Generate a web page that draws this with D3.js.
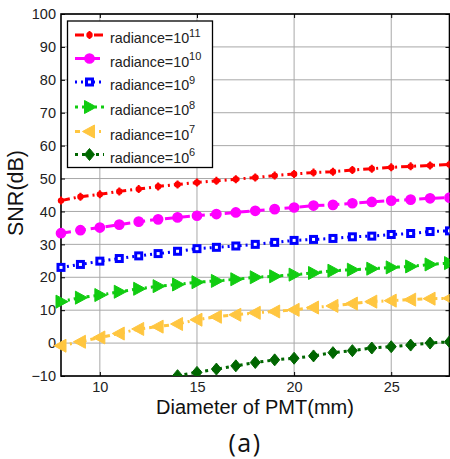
<!DOCTYPE html>
<html>
<head>
<meta charset="utf-8">
<script src="https://d3js.org/d3.v7.min.js"></script>
<style>
  body { margin: 0; background: #fff; }
  text { font-family: "Liberation Sans", Arial, sans-serif; }
</style>
</head>
<body>
<svg width="450" height="459"></svg>
<script>
// diameter of PMT (mm)
var diameters = [8, 9, 10, 11, 12, 13, 14, 15, 16, 17, 18, 19, 20, 21, 22, 23, 24, 25, 26, 27, 28];

// SNR (dB), one array per radiance
var snr11 = [43.3, 44.5, 45.2, 46.1, 46.8, 47.6, 48.2, 48.8, 49.3, 49.8, 50.3, 50.9, 51.4, 51.8, 52.1, 52.6, 53.0, 53.4, 53.7, 54.0, 54.3];
var snr10 = [33.4, 34.3, 35.1, 36.0, 36.9, 37.6, 38.2, 38.7, 39.2, 39.7, 40.2, 40.7, 41.2, 41.8, 42.0, 42.5, 42.9, 43.3, 43.6, 44.0, 44.2];
var snr9  = [23.0, 23.9, 24.9, 25.7, 26.5, 27.2, 27.9, 28.7, 29.1, 29.5, 30.0, 30.6, 31.2, 31.5, 31.8, 32.3, 32.5, 33.0, 33.3, 33.9, 34.1];
var snr8  = [12.6, 13.8, 14.6, 15.6, 16.5, 17.3, 17.8, 18.5, 18.9, 19.4, 20.0, 20.3, 20.8, 21.3, 22.0, 22.3, 22.6, 23.0, 23.3, 23.9, 24.3];
var snr7  = [-0.8, 0.4, 1.7, 2.9, 4.3, 5.0, 5.8, 7.1, 8.0, 8.6, 9.2, 9.6, 10.1, 10.8, 11.3, 12.0, 12.6, 12.9, 13.2, 13.5, 13.6];
var snr6  = [null, null, null, null, null, null, -9.9, -8.9, -7.9, -6.9, -5.9, -5.1, -4.6, -3.9, -2.9, -2.3, -1.5, -1.1, -0.6, 0.0, 0.4];

var exponents = ["11", "10", "9", "8", "7", "6"];
var xTicks = [10, 15, 20, 25];
var yTicks = [-10, 0, 10, 20, 30, 40, 50, 60, 70, 80, 90, 100];

var series = [
  {values: snr11, color: "#ff0000", dash: "9,4,2,4", marker: "dot"},
  {values: snr10, color: "#ff00ff", dash: "10,5", marker: "circle"},
  {values: snr9,  color: "#0000ff", dash: "2,4", marker: "square"},
  {values: snr8,  color: "#11cc11", dash: "3,4,2,4", marker: "right"},
  {values: snr7,  color: "#ffc640", dash: "5,4,2,4", marker: "left"},
  {values: snr6,  color: "#006600", dash: "3,4", marker: "diamond"}
];

var svg = d3.select("svg");
var pLeft = 61, pRight = 449.5, pTop = 14, pBottom = 376;

var x = d3.scaleLinear().domain([8, 28]).range([pLeft, pRight]);
var y = d3.scaleLinear().domain([-10, 100]).range([pBottom, pTop]);

// grid
var grid = svg.append("g");
grid.selectAll("line.gx").data(xTicks).enter().append("line")
  .attr("x1", function(d) { return x(d); }).attr("x2", function(d) { return x(d); })
  .attr("y1", pTop).attr("y2", pBottom)
  .style("stroke", "#a8a8a8").style("stroke-width", "1px");
grid.selectAll("line.gy").data(yTicks).enter().append("line")
  .attr("x1", pLeft).attr("x2", pRight)
  .attr("y1", function(d) { return y(d); }).attr("y2", function(d) { return y(d); })
  .style("stroke", "#a8a8a8").style("stroke-width", "1px");

// axes with inward ticks
svg.append("g").attr("transform", "translate(0," + pBottom + ")")
  .call(d3.axisBottom(x).tickValues(xTicks).tickSizeInner(-4).tickSizeOuter(0).tickPadding(6));
svg.append("g").attr("transform", "translate(0," + pTop + ")")
  .call(d3.axisTop(x).tickValues(xTicks).tickSizeInner(-4).tickSizeOuter(0).tickFormat(""));
svg.append("g").attr("transform", "translate(" + pLeft + ",0)")
  .call(d3.axisLeft(y).tickValues(yTicks).tickSizeInner(-4).tickSizeOuter(0).tickPadding(5));
svg.append("g").attr("transform", "translate(" + pRight + ",0)")
  .call(d3.axisRight(y).tickValues(yTicks).tickSizeInner(-4).tickSizeOuter(0).tickFormat(""));

svg.selectAll(".domain").remove();
svg.selectAll(".tick line").style("stroke", "#000");
svg.selectAll(".tick text").style("font-size", "14.5px").style("fill", "#222")
  .style("font-family", "'Liberation Sans', Arial, sans-serif");

// plot box
svg.append("rect")
  .attr("x", pLeft).attr("y", pTop)
  .attr("width", pRight - pLeft).attr("height", pBottom - pTop)
  .style("fill", "none").style("stroke", "#000").style("stroke-width", "1.6px");

function drawMarker(g, type, color, cx, cy) {
  if (type == "dot") {
    g.append("circle").attr("cx", cx).attr("cy", cy).attr("r", 3.2).style("fill", color);
    g.append("line").attr("x1", cx).attr("x2", cx).attr("y1", cy - 4).attr("y2", cy + 4)
      .style("stroke", color).style("stroke-width", "2px");
  } else if (type == "circle") {
    g.append("circle").attr("cx", cx).attr("cy", cy).attr("r", 4.6)
      .style("fill", color).style("stroke", color).style("stroke-width", "1.5px");
  } else if (type == "square") {
    g.append("rect").attr("x", cx - 3).attr("y", cy - 3).attr("width", 6).attr("height", 6)
      .style("fill", "#fff").style("stroke", color).style("stroke-width", "3px");
  } else if (type == "right") {
    g.append("path").attr("d", "M" + (cx - 5) + "," + (cy - 6.5) + "L" + (cx + 7) + "," + cy + "L" + (cx - 5) + "," + (cy + 6.5) + "Z")
      .style("fill", color).style("stroke", color).style("stroke-width", "1px");
  } else if (type == "left") {
    g.append("path").attr("d", "M" + (cx + 5) + "," + (cy - 6.5) + "L" + (cx - 7) + "," + cy + "L" + (cx + 5) + "," + (cy + 6.5) + "Z")
      .style("fill", color).style("stroke", color).style("stroke-width", "1px");
  } else if (type == "diamond") {
    g.append("path").attr("d", "M" + cx + "," + (cy - 6) + "L" + (cx + 5) + "," + cy + "L" + cx + "," + (cy + 6) + "L" + (cx - 5) + "," + cy + "Z")
      .style("fill", color).style("stroke", color).style("stroke-width", "1px");
  }
}

svg.append("clipPath").attr("id", "plotclip").append("rect")
  .attr("x", pLeft - 8).attr("y", pTop).attr("width", pRight - pLeft + 8).attr("height", pBottom - pTop);

var plot = svg.append("g").attr("clip-path", "url(#plotclip)");

var line = d3.line()
  .defined(function(d) { return d[1] !== null; })
  .x(function(d) { return x(d[0]); })
  .y(function(d) { return y(d[1]); });

series.forEach(function(s) {
  var pts = diameters.map(function(d, i) { return [d, s.values[i]]; });
  plot.append("path").datum(pts).attr("d", line)
    .style("fill", "none").style("stroke", s.color)
    .style("stroke-width", "3px").style("stroke-dasharray", s.dash);
  pts.forEach(function(p) {
    if (p[1] === null) return;
    drawMarker(plot, s.marker, s.color, x(p[0]), y(p[1]));
  });
});

// legend
var lg = svg.append("g");
lg.append("rect").attr("x", 67.5).attr("y", 21).attr("width", 145).attr("height", 146.5)
  .style("fill", "#fff").style("stroke", "#000").style("stroke-width", "1.3px");
var rowY = [35, 58.5, 82, 107, 131.5, 154.5];
series.forEach(function(s, i) {
  var ry = rowY[i];
  lg.append("line").attr("x1", 75).attr("x2", 104).attr("y1", ry).attr("y2", ry)
    .style("stroke", s.color).style("stroke-width", "3px").style("stroke-dasharray", s.dash);
  drawMarker(lg, s.marker, s.color, 89.5, ry);
  var t = lg.append("text").attr("x", 110).attr("y", ry + 8)
    .style("font-size", "14.3px").style("fill", "#222");
  t.append("tspan").text("radiance=10");
  t.append("tspan").attr("dy", -6.5).style("font-size", "11px").text(exponents[i]);
});

// axis titles
svg.append("text")
  .attr("transform", "translate(23,193) rotate(-90)")
  .attr("text-anchor", "middle")
  .style("font-size", "21.5px").style("fill", "#111")
  .text("SNR(dB)");
svg.append("text")
  .attr("x", 255).attr("y", 414)
  .attr("text-anchor", "middle")
  .style("font-size", "20px").style("fill", "#111")
  .text("Diameter of PMT(mm)");
svg.append("text")
  .attr("x", 245).attr("y", 452)
  .attr("text-anchor", "middle")
  .style("font-size", "25px").style("fill", "#111")
  .style("letter-spacing", "1.5px")
  .style("font-family", "'Open Sans', sans-serif")
  .text("(a)");
</script>
</body>
</html>
